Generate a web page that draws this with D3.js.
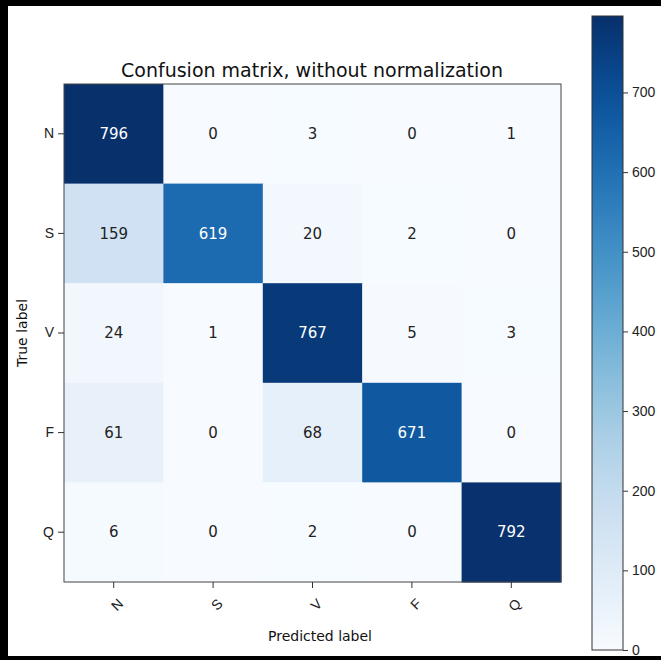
<!DOCTYPE html>
<html>
<head>
<meta charset="utf-8">
<script src="https://cdn.jsdelivr.net/npm/d3@7"></script>
<style>
  body { margin: 0; background: #fff; }
  svg { display: block; font-family: "DejaVu Sans", sans-serif; }
  .axis text { font-size: 14px; fill: #222; }
  .axis line { stroke: #333; }
</style>
</head>
<body>
<div id="chart"></div>
<script>
// class names, rows = true label, cols = predicted label
var labels = ["N", "S", "V", "F", "Q"];
var counts = [
    [796, 0, 3, 0, 1],
    [159, 619, 20, 2, 0],
    [24, 1, 767, 5, 3],
    [61, 0, 68, 671, 0],
    [6, 0, 2, 0, 792]
];
var cbTicks = [0, 100, 200, 300, 400, 500, 600, 700];
var vmax = 796;

var width = 661, height = 660;
var svg = d3.select("#chart").append("svg")
    .attr("width", width)
    .attr("height", height);

// black frame round the screenshot
svg.append("rect").attr("x", 0).attr("y", 0).attr("width", width).attr("height", 6).attr("fill", "#000");
svg.append("rect").attr("x", 0).attr("y", 0).attr("width", 8).attr("height", height).attr("fill", "#000");
svg.append("rect").attr("x", 0).attr("y", 656).attr("width", width).attr("height", 4).attr("fill", "#000");

var x = d3.scaleBand().domain(labels).range([64, 561]);
var y = d3.scaleBand().domain(labels).range([84, 582]);
var color = d3.scaleSequential(d3.interpolateBlues).domain([0, vmax]);

// flatten the matrix into cells
var cells = [];
counts.forEach(function (row, i) {
    row.forEach(function (v, j) {
        cells.push({ t: labels[i], p: labels[j], v: v });
    });
});

svg.selectAll("rect.cell")
    .data(cells)
    .enter().append("rect")
    .attr("class", "cell")
    .attr("x", function (d) { return x(d.p); })
    .attr("y", function (d) { return y(d.t); })
    .attr("width", x.bandwidth() + 0.5)
    .attr("height", y.bandwidth() + 0.5)
    .attr("fill", function (d) { return color(d.v); });

svg.selectAll("text.val")
    .data(cells)
    .enter().append("text")
    .attr("class", "val")
    .attr("x", function (d) { return x(d.p) + x.bandwidth() / 2; })
    .attr("y", function (d) { return y(d.t) + y.bandwidth() / 2; })
    .attr("dy", "0.35em")
    .attr("text-anchor", "middle")
    .style("font-size", "15px")
    .attr("fill", function (d) { return d.v > vmax / 2 ? "#fff" : "#222"; })
    .text(function (d) { return d.v; });

// frame of the matrix
svg.append("rect")
    .attr("x", 64).attr("y", 84)
    .attr("width", 497).attr("height", 498)
    .attr("fill", "none").attr("stroke", "#444").attr("stroke-width", 1);

var yAxis = svg.append("g")
    .attr("class", "axis")
    .attr("transform", "translate(64,0)")
    .call(d3.axisLeft(y).tickSize(6).tickSizeOuter(0).tickPadding(4));
yAxis.select(".domain").remove();

var xAxis = svg.append("g")
    .attr("class", "axis")
    .attr("transform", "translate(0,582)")
    .call(d3.axisBottom(x).tickSize(6).tickSizeOuter(0).tickPadding(4));
xAxis.select(".domain").remove();
xAxis.selectAll("text")
    .attr("text-anchor", "end")
    .attr("dy", "0.35em")
    .attr("transform", function () { return "translate(0,12) rotate(-45)"; });

svg.append("text")
    .attr("x", 312).attr("y", 77)
    .attr("text-anchor", "middle")
    .style("font-size", "19px")
    .attr("fill", "#111")
    .text("Confusion matrix, without normalization");

svg.append("text")
    .attr("x", 320).attr("y", 641)
    .attr("text-anchor", "middle")
    .style("font-size", "14px")
    .attr("fill", "#111")
    .text("Predicted label");

svg.append("text")
    .attr("transform", "translate(27,333) rotate(-90)")
    .attr("text-anchor", "middle")
    .style("font-size", "14px")
    .attr("fill", "#111")
    .text("True label");

// colorbar
var cb = d3.scaleLinear().domain([0, vmax]).range([650, 16]);
var defs = svg.append("defs");
var grad = defs.append("linearGradient")
    .attr("id", "cbgrad")
    .attr("x1", 0).attr("y1", 1).attr("x2", 0).attr("y2", 0);
d3.range(0, 1.0001, 0.05).forEach(function (t) {
    grad.append("stop").attr("offset", t).attr("stop-color", d3.interpolateBlues(t));
});
svg.append("rect")
    .attr("x", 592).attr("y", cb(vmax))
    .attr("width", 31).attr("height", cb(0) - cb(vmax))
    .attr("fill", "url(#cbgrad)")
    .attr("stroke", "#333").attr("stroke-width", 1);

var cbAxis = svg.append("g")
    .attr("class", "axis")
    .attr("transform", "translate(623,0)")
    .call(d3.axisRight(cb).tickValues(cbTicks).tickSize(5).tickSizeOuter(0).tickPadding(4));
cbAxis.select(".domain").remove();
</script>
</body>
</html>
